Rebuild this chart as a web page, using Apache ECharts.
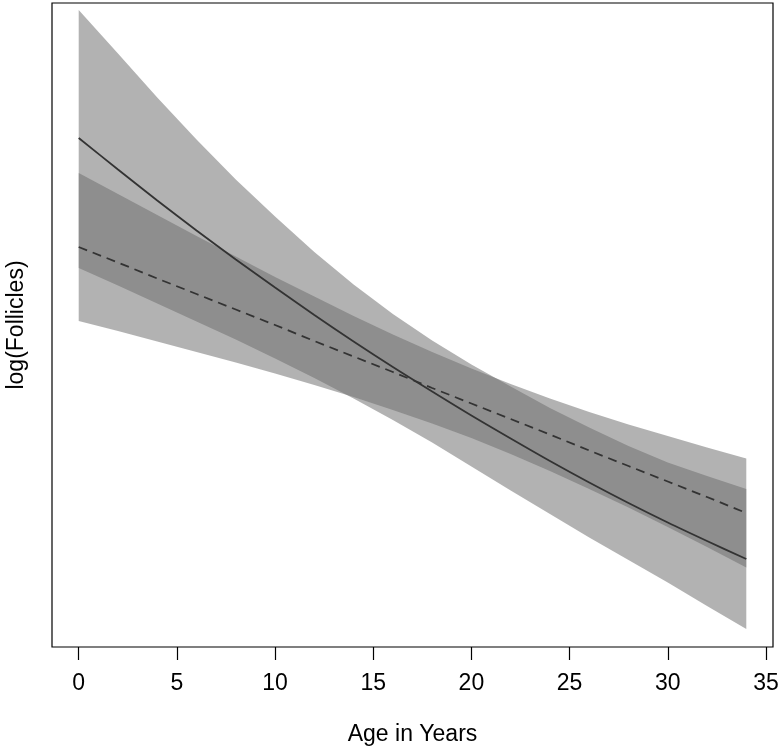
<!DOCTYPE html>
<html>
<head>
<meta charset="utf-8">
<script src="https://cdn.jsdelivr.net/npm/echarts@6/dist/echarts.min.js"></script>
<style>
  html, body { margin: 0; padding: 0; background: #ffffff; }
  #chart { width: 783px; height: 750px; }
</style>
</head>
<body>
<div id="chart"></div>
<script>
// Age in years (x)
var ages = [0, 2, 4, 6, 8, 10, 12, 14, 16, 18, 20, 22, 24, 26, 28, 30, 32, 34];
// Solid model: fitted log(Follicles) and confidence band
var solidFit   = [11.24, 10.61, 9.99, 9.39, 8.81, 8.25, 7.70, 7.17, 6.66, 6.17, 5.69, 5.23, 4.78, 4.35, 3.94, 3.55, 3.18, 2.82];
var solidUpper = [13.80, 12.93, 12.05, 11.21, 10.41, 9.67, 8.96, 8.31, 7.72, 7.19, 6.71, 6.27, 5.84, 5.45, 5.08, 4.75, 4.48, 4.22];
var solidLower = [8.64, 8.29, 7.93, 7.57, 7.21, 6.83, 6.44, 6.03, 5.60, 5.15, 4.67, 4.19, 3.72, 3.25, 2.80, 2.35, 1.88, 1.42];
// Dashed model: fitted log(Follicles) and confidence band
var dashFit    = [9.06, 8.75, 8.43, 8.12, 7.81, 7.50, 7.18, 6.87, 6.56, 6.24, 5.93, 5.62, 5.31, 4.99, 4.68, 4.37, 4.06, 3.74];
var dashUpper  = [10.54, 10.12, 9.70, 9.28, 8.87, 8.46, 8.07, 7.68, 7.31, 6.96, 6.63, 6.32, 6.03, 5.76, 5.51, 5.28, 5.05, 4.83];
var dashLower  = [7.58, 7.38, 7.17, 6.96, 6.75, 6.53, 6.30, 6.06, 5.80, 5.53, 5.24, 4.92, 4.58, 4.22, 3.85, 3.46, 3.06, 2.65];
// Tick labels
var xTicks = [0, 5, 10, 15, 20, 25, 30, 35];

function pairs(ys) { return ages.map(function (a, i) { return [a, ys[i]]; }); }

var bandFill = 'rgba(110,110,110,0.53)';
var font = '"Liberation Sans", Arial, Helvetica, sans-serif';

function bandSeries(upper, lower) {
  return {
    type: 'custom',
    silent: true,
    data: [[ages[0], lower[0]]],
    renderItem: function (params, api) {
      var pts = [];
      for (var i = 0; i < ages.length; i++) pts.push(api.coord([ages[i], upper[i]]));
      for (var j = ages.length - 1; j >= 0; j--) pts.push(api.coord([ages[j], lower[j]]));
      return { type: 'polygon', shape: { points: pts }, style: { fill: bandFill, stroke: null } };
    }
  };
}

var chart = echarts.init(document.getElementById('chart'), null, { renderer: 'canvas' });
chart.setOption({
  backgroundColor: '#ffffff',
  animation: false,
  grid: { left: 52, right: 10, top: 3, bottom: 103, show: true, borderColor: '#000', borderWidth: 1.2, containLabel: false, outerBoundsMode: 'none' },
  xAxis: {
    type: 'value', min: -1.36, max: 35.36,
    axisLine: { show: false },
    splitLine: { show: false },
    axisTick: { show: true, customValues: xTicks, length: 13, lineStyle: { color: '#000', width: 1.2 } },
    axisLabel: { show: true, customValues: xTicks, margin: 25, fontSize: 23, color: '#000', fontFamily: font },
    name: 'Age in Years', nameLocation: 'middle', nameGap: 76,
    nameTextStyle: { fontSize: 23, color: '#000', fontFamily: font }
  },
  yAxis: {
    type: 'value', min: 1.06, max: 13.94,
    axisLine: { show: false }, axisTick: { show: false }, axisLabel: { show: false }, splitLine: { show: false },
    name: 'log(Follicles)', nameLocation: 'middle', nameGap: 24,
    nameTextStyle: { fontSize: 23, color: '#000', fontFamily: font }
  },
  series: [
    bandSeries(solidUpper, solidLower),
    bandSeries(dashUpper, dashLower),
    { type: 'line', data: pairs(solidFit), symbol: 'none', smooth: 0.3, lineStyle: { color: '#333333', width: 1.8 }, silent: true },
    { type: 'line', data: pairs(dashFit), symbol: 'none', lineStyle: { color: '#333333', width: 1.8, type: [9, 6] }, silent: true }
  ]
});
</script>
</body>
</html>
